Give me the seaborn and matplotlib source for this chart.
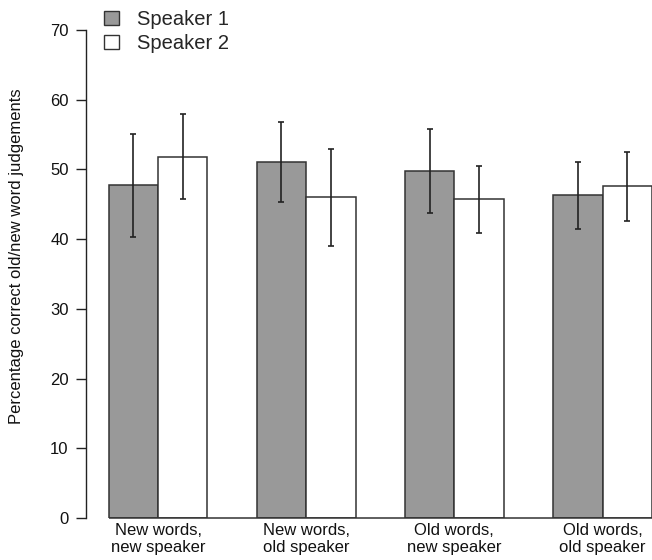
import matplotlib
matplotlib.use("Agg")
import matplotlib.pyplot as plt
import seaborn as sns
import pandas as pd
from matplotlib.patches import Patch

categories = ["New words,\nnew speaker", "New words,\nold speaker",
              "Old words,\nnew speaker", "Old words,\nold speaker"]
speakers = ["Speaker 1", "Speaker 2"]
speaker1_mean = [47.7, 51.0, 49.8, 46.3]
speaker1_low = [40.3, 45.3, 43.7, 41.5]
speaker1_high = [55.1, 56.8, 55.8, 51.1]
speaker2_mean = [51.8, 46.0, 45.8, 47.6]
speaker2_low = [45.7, 39.0, 40.9, 42.6]
speaker2_high = [57.9, 53.0, 50.5, 52.5]
yticks = [0, 10, 20, 30, 40, 50, 60, 70]

sns.set_style("white")
plt.rcParams["font.family"] = ["Liberation Sans", "DejaVu Sans"]

df = pd.DataFrame({
    "cond": categories * 2,
    "speaker": [speakers[0]] * 4 + [speakers[1]] * 4,
    "val": speaker1_mean + speaker2_mean,
})

W, H = 652, 560
fig = plt.figure(figsize=(W / 100, H / 100), dpi=100)
ax = fig.add_axes([86 / W, (H - 518) / H, (W - 86) / W, (518 - 30) / H])

palette = ["#999999", "#ffffff"]
sns.barplot(data=df, x="cond", y="val", hue="speaker", order=categories,
            hue_order=speakers, palette=palette, width=2 / 3, errorbar=None,
            edgecolor="#333333", linewidth=1.1, saturation=1, ax=ax, legend=False)

lows = [speaker1_low, speaker2_low]
highs = [speaker1_high, speaker2_high]
means = [speaker1_mean, speaker2_mean]
for cont, m, lo, hi in zip(ax.containers, means, lows, highs):
    xs = [b.get_x() + b.get_width() / 2 for b in cont]
    yerr = [[mm - l for mm, l in zip(m, lo)], [h - mm for mm, h in zip(m, hi)]]
    ax.errorbar(xs, m, yerr=yerr, fmt="none", ecolor="#222222",
                elinewidth=1.2, capsize=2, capthick=1.2, zorder=5)

first = ax.containers[0][0]
ax.hlines(0, first.get_x(), 3.5, color="#333333", lw=1.1, zorder=4, clip_on=False)

ax.set_xlim(-0.486, 3.334)
ax.set_ylim(0, 70)
ax.set_yticks(yticks)
ax.set_yticklabels([str(t) for t in yticks], fontsize=12)
ax.tick_params(axis="y", direction="out", length=7, width=1, pad=5.5,
               color="#222222", labelcolor="#111111", left=True)
ax.tick_params(axis="x", length=0, pad=3.5, labelsize=12, labelcolor="#111111")
ax.set_xlabel("")
ax.set_ylabel("")
for s in ["top", "right", "bottom"]:
    ax.spines[s].set_visible(False)
ax.spines["left"].set_color("#222222")
ax.spines["left"].set_linewidth(1)

fig.text(16.5 / W, 1 - 256.5 / H, "Percentage correct old/new word judgements",
         rotation=90, ha="center", va="center", fontsize=12, color="#111111")

handles = [Patch(facecolor=palette[0], edgecolor="#333333", lw=1),
           Patch(facecolor=palette[1], edgecolor="#333333", lw=1)]
fig.legend(handles, speakers, loc="upper left",
           bbox_to_anchor=(104 / W, 1 - 10 / H), frameon=False, fontsize=14.5,
           handlelength=0.75, handleheight=0.65, handletextpad=0.9,
           labelspacing=0.25, borderpad=0, borderaxespad=0)

fig.savefig("out.png", dpi=100)
